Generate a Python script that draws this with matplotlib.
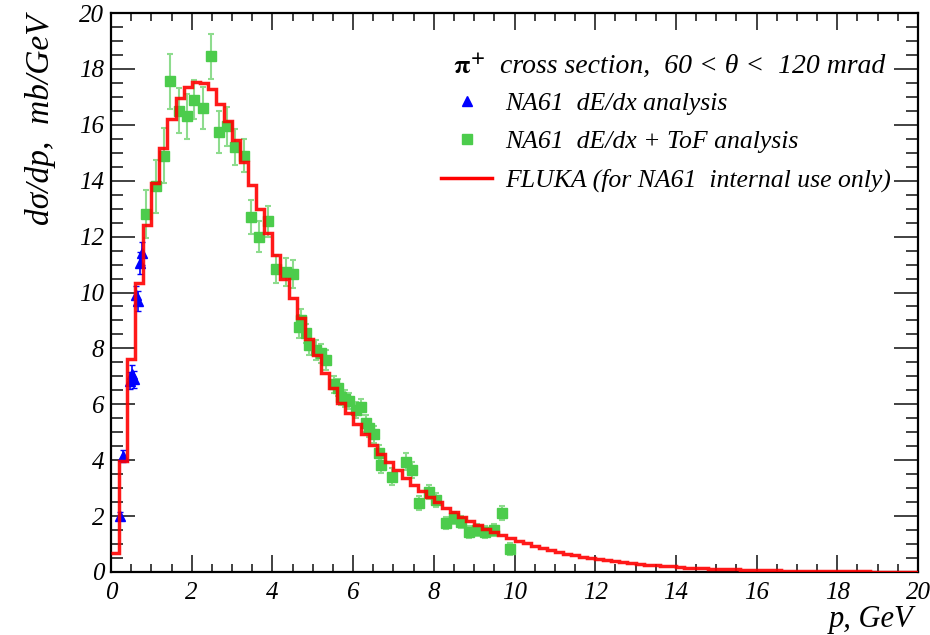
import numpy as np
import matplotlib
matplotlib.use('Agg')
import matplotlib.pyplot as plt
from matplotlib.ticker import MultipleLocator
from matplotlib.lines import Line2D

# FLUKA histogram, 0.2 GeV bins from p = 0 to 20 GeV
fluka_bin_width = 0.2
fluka_values = [
    0.69, 3.98, 7.61, 10.33, 12.41, 13.93, 15.18, 16.20, 16.97, 17.36,
    17.54, 17.48, 17.27, 16.74, 16.14, 15.45, 14.68, 13.85, 12.98, 12.14,
    11.34, 10.50, 9.79, 9.08, 8.35, 7.76, 7.11, 6.57, 6.06, 5.68,
    5.30, 4.92, 4.56, 4.22, 3.92, 3.64, 3.38, 3.13, 2.90, 2.69,
    2.49, 2.30, 2.13, 1.97, 1.82, 1.68, 1.55, 1.43, 1.32, 1.21,
    1.11, 1.02, 0.94, 0.86, 0.79, 0.72, 0.66, 0.60, 0.55, 0.50,
    0.46, 0.42, 0.38, 0.35, 0.32, 0.29, 0.26, 0.24, 0.22, 0.20,
    0.18, 0.16, 0.15, 0.13, 0.12, 0.11, 0.10, 0.09, 0.08, 0.07,
    0.065, 0.06, 0.055, 0.05, 0.045, 0.04, 0.036, 0.033, 0.03, 0.027,
    0.024, 0.022, 0.02, 0.018, 0.016, 0.014, 0.012, 0.01, 0.008, 0.006,
]

# NA61 dE/dx analysis (blue triangles)
dedx_p = [0.22, 0.30, 0.46, 0.51, 0.56, 0.63, 0.68, 0.73, 0.76]
dedx_y = [2.0, 4.15, 6.85, 7.1, 6.9, 9.9, 9.7, 11.05, 11.4]
dedx_err = [0.15, 0.2, 0.3, 0.3, 0.3, 0.35, 0.35, 0.4, 0.4]

# NA61 dE/dx + ToF analysis (green squares)
tof_p = [0.86, 1.12, 1.31, 1.46, 1.68, 1.88, 2.05, 2.28, 2.48, 2.68,
         2.88, 3.08, 3.30, 3.47, 3.67, 3.90, 4.09, 4.33, 4.51, 4.66,
         4.72, 4.83, 4.91, 5.08, 5.20, 5.33, 5.53, 5.62, 5.70, 5.80,
         5.91, 6.07, 6.20, 6.32, 6.40, 6.53, 6.65, 6.70, 6.97, 7.32,
         7.47, 7.64, 7.89, 8.06, 8.31, 8.51, 8.68, 8.88, 9.08, 9.26,
         9.50, 9.68, 9.88]
tof_y = [12.8, 13.8, 14.9, 17.55, 16.5, 16.3, 16.9, 16.6, 18.45, 15.75,
         15.95, 15.2, 14.9, 12.7, 12.0, 12.55, 10.85, 10.75, 10.65, 8.78,
         9.0, 8.54, 8.12, 7.94, 7.82, 7.58, 6.72, 6.6, 6.27, 6.2,
         6.12, 5.8, 5.9, 5.32, 5.14, 4.93, 4.25, 3.83, 3.41, 3.94,
         3.65, 2.47, 2.86, 2.58, 1.75, 1.93, 1.79, 1.43, 1.50, 1.43,
         1.50, 2.11, 0.82]
tof_err = [0.85, 0.95, 1.0, 1.0, 0.8, 0.8, 0.7, 0.75, 0.8, 0.75,
           0.7, 0.65, 0.6, 0.6, 0.55, 0.55, 0.5, 0.5, 0.5, 0.4,
           0.4, 0.35, 0.35, 0.35, 0.35, 0.35, 0.3, 0.3, 0.3, 0.3,
           0.3, 0.3, 0.3, 0.3, 0.3, 0.3, 0.3, 0.3, 0.3, 0.3,
           0.3, 0.25, 0.25, 0.25, 0.2, 0.2, 0.2, 0.2, 0.2, 0.2,
           0.2, 0.25, 0.2]

plt.rcParams['mathtext.fontset'] = 'stix'
serif = ['Liberation Serif', 'DejaVu Serif']

fig = plt.figure(figsize=(9.3, 6.35), dpi=100)
ax = fig.add_axes([111 / 930, 1 - 572 / 635, 807 / 930, 559 / 635])

green = '#4ccc4c'
ax.errorbar(tof_p, tof_y, yerr=tof_err, fmt='s', color=green, ms=7.5,
            ecolor='#8edc8e', elinewidth=1.5, capsize=2.5, capthick=1.5,
            zorder=2)
ax.errorbar(dedx_p, dedx_y, yerr=dedx_err, fmt='^', color='#0000ff', ms=6.5,
            ecolor='#0000ff', elinewidth=1.2, capsize=2, zorder=3)

edges = np.arange(len(fluka_values) + 1) * fluka_bin_width
ax.stairs(fluka_values, edges, baseline=None, color='#ff0000', lw=2.5,
          alpha=0.9, zorder=4)

ax.set_xlim(0, 20)
ax.set_ylim(0, 20)
ax.xaxis.set_major_locator(MultipleLocator(2))
ax.xaxis.set_minor_locator(MultipleLocator(0.5))
ax.yaxis.set_major_locator(MultipleLocator(2))
ax.yaxis.set_minor_locator(MultipleLocator(0.5))
ax.tick_params(which='both', direction='in', top=True, right=True,
               width=1.3, color='#333333')
ax.tick_params(axis='x', which='major', length=12, pad=7)
ax.tick_params(axis='x', which='minor', length=6)
ax.tick_params(axis='y', which='major', length=17, pad=5)
ax.tick_params(axis='y', which='minor', length=8.5)
for lab in ax.get_xticklabels() + ax.get_yticklabels():
    lab.set_family(serif)
    lab.set_style('italic')
    lab.set_fontsize(18)
for sp in ax.spines.values():
    sp.set_linewidth(1.6)

fig.text(41 / 930, 1 - 14 / 635, 'd\u03c3/dp,  mb/GeV', rotation=90,
         ha='center', va='top', fontsize=24, family=serif, style='italic')
fig.text(913 / 930, 1 - 620 / 635, 'p, GeV', ha='right', va='center',
         fontsize=22, family=serif, style='italic')

# legend header
fig.text(453 / 930, 1 - 66 / 635, r'$\mathbf{\pi^{+}}$', ha='left',
         va='center', fontsize=19)
fig.text(500 / 930, 1 - 66 / 635,
         'cross section,  60 < \u03b8 <  120 mrad', ha='left', va='center',
         fontsize=20, family=serif, style='italic')

handles = [
    Line2D([], [], ls='none', marker='^', color='#0000ff', ms=7),
    Line2D([], [], ls='none', marker='s', color=green, ms=7),
    Line2D([], [], color='#ff0000', lw=2.5),
]
labels = ['NA61  dE/dx analysis', 'NA61  dE/dx + ToF analysis',
          'FLUKA (for NA61  internal use only)']
ax.legend(handles, labels, loc='upper left', frameon=False,
          bbox_to_anchor=(441 / 930, 1 - 92 / 635),
          bbox_transform=fig.transFigure, borderpad=0, borderaxespad=0,
          handlelength=2.0, handletextpad=0.5, labelspacing=0.6,
          prop={'family': serif, 'style': 'italic', 'size': 18.5})

fig.savefig('out.png', dpi=100)
